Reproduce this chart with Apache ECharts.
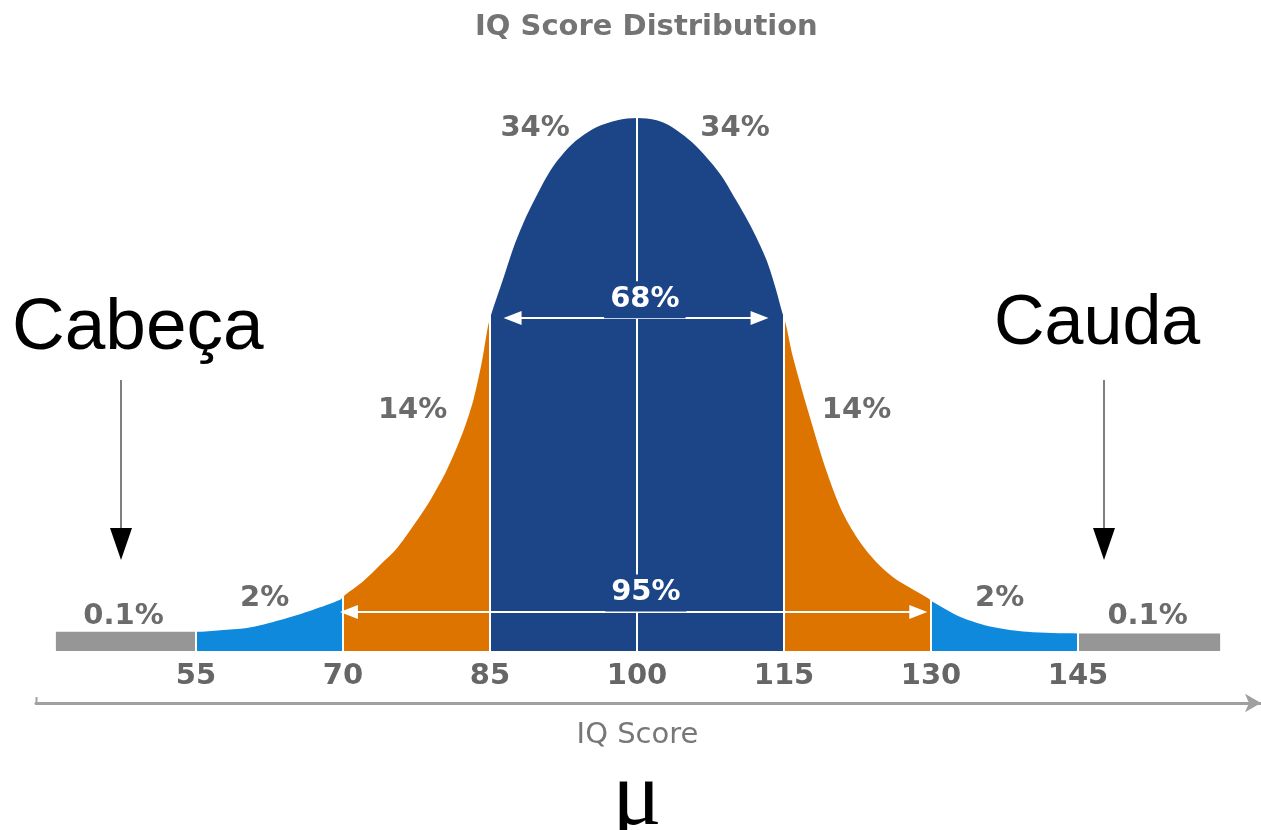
<!DOCTYPE html>
<html>
<head>
<meta charset="utf-8">
<title>IQ Score Distribution</title>
<script src="https://cdn.jsdelivr.net/npm/echarts@6/dist/echarts.min.js"></script>
<style>
  html, body { margin: 0; padding: 0; background: #fff; }
  #chart { width: 1261px; height: 830px; }
</style>
</head>
<body>
<div id="chart"></div>
<script>
// band edges, also used as the axis tick labels
const tickLabels = [55, 70, 85, 100, 115, 130, 145];
// share of people in each band, left to right
const shares = ['0.1%', '2%', '14%', '34%', '34%', '14%', '2%', '0.1%'];
// the two spans marked with arrows
const spans = ['68%', '95%'];
// outline of the curve (score, height 0-100)
const curveScores = [40.7, 55, 57.5, 60.2, 63.6, 66.9, 69.7,
  70.2, 72.0, 73.8, 75.5, 77.1, 78.9, 80.6, 82.2, 83.3, 84.2, 84.8,
  85.2, 86.3, 87.3, 88.4, 89.8, 91.4, 93.5, 95.9, 98.0, 100,
  102.0, 103.3, 105.7, 108.4, 110.1, 111.8, 113.2, 114.2, 114.8,
  115.2, 115.9, 117.7, 119.4, 121.0, 122.8, 124.5, 126.1, 127.9, 129.7,
  130.2, 133.0, 136.3, 139.8, 145, 159.5];
const curveHeights = [3.6, 3.6, 3.9, 4.3, 5.8, 7.7, 9.6,
  10.5, 13.0, 16.2, 19.3, 23.3, 28.3, 34.0, 40.9, 47.1, 54.6, 61.0,
  63.6, 69.6, 75.2, 80.3, 85.6, 90.8, 95.3, 98.3, 99.6, 100,
  99.6, 98.6, 95.3, 89.7, 84.6, 79.0, 73.4, 67.7, 63.6,
  61.2, 55.2, 43.5, 33.4, 25.9, 20.3, 16.5, 13.9, 11.8, 9.9,
  9.2, 6.4, 4.5, 3.6, 3.3, 3.3];

// styling / layout
const bandColors = ['#969696', '#0e89dc', '#dd7400', '#1b4587', '#1b4587', '#dd7400', '#0e89dc', '#969696'];
const shareAnchors = [[47.6, 6.4], [62.0, 9.8], [77.1, 45.2], [89.6, 98.1],
  [110.0, 98.1], [122.4, 45.2], [137.0, 9.8], [152.1, 6.4]];
const spanAnchors = [[100.8, 65.9], [100.9, 10.9]];
const spanArrows = [[[87.3, 62.5], [112.5, 62.5]], [[70.6, 7.3], [128.7, 7.3]]];

const pieces = bandColors.map((c, i) => {
  const p = { color: c };
  if (i > 0) p.gte = tickLabels[i - 1];
  if (i < tickLabels.length) p.lt = tickLabels[i];
  return p;
});

const labelFont = { fontFamily: 'DejaVu Sans', fontWeight: 'bold', fontSize: 29 };

const markData = tickLabels.map(v => ({ xAxis: v }));
spanArrows.forEach(a => {
  markData.push([
    { coord: a[0], symbol: 'triangle', symbolSize: [14, 18] },
    { coord: a[1], symbol: 'triangle', symbolSize: [14, 18] }
  ]);
});

const labelData = shares.map((s, i) => ({ name: s, value: shareAnchors[i] }));
spans.forEach((s, i) => {
  labelData.push({
    name: s,
    value: spanAnchors[i],
    label: { color: '#fff', backgroundColor: '#1b4587', padding: [4, 6] }
  });
});

const chart = echarts.init(document.getElementById('chart'));
chart.setOption({
  animation: false,
  backgroundColor: '#fff',
  title: {
    text: 'IQ Score Distribution',
    left: 470,
    top: 8,
    textStyle: { fontFamily: 'DejaVu Sans', fontWeight: 'bold', fontSize: 29, color: '#747474' }
  },
  grid: { left: 36, right: 0, top: 118, bottom: 179 },
  xAxis: [
    {
      type: 'value', min: 38.67, max: 163.67, position: 'bottom',
      axisLine: { show: false }, axisTick: { show: false }, splitLine: { show: false },
      axisLabel: Object.assign({ customValues: tickLabels, margin: 11, color: '#666' }, labelFont)
    },
    {
      type: 'value', min: 38.67, max: 163.67, position: 'bottom', offset: 52,
      axisLine: {
        show: true, symbol: ['none', 'arrow'], symbolSize: [14, 16], symbolOffset: [0, 0],
        lineStyle: { color: '#a0a0a0', width: 3 }
      },
      axisTick: { show: false }, axisLabel: { show: false }, splitLine: { show: false },
      name: 'IQ Score', nameLocation: 'middle', nameGap: 18,
      nameTextStyle: { fontFamily: 'DejaVu Sans', fontSize: 29, color: '#777', padding: [0, 22, 0, 0] }
    }
  ],
  yAxis: { type: 'value', min: 0, max: 100, show: false },
  visualMap: { show: false, type: 'piecewise', dimension: 0, seriesIndex: 0, pieces: pieces },
  series: [
    {
      type: 'line',
      data: curveScores.map((x, i) => [x, curveHeights[i]]),
      showSymbol: false,
      smooth: 0.3,
      silent: true,
      lineStyle: { width: 0 },
      areaStyle: { opacity: 1 },
      markLine: {
        silent: true,
        symbol: 'none',
        label: { show: false },
        lineStyle: { color: '#fff', width: 2, type: 'solid' },
        data: markData
      }
    },
    {
      type: 'scatter',
      symbolSize: 1,
      itemStyle: { color: 'transparent', opacity: 1 },
      silent: true,
      z: 5,
      data: labelData,
      label: Object.assign({ show: true, position: 'inside', formatter: '{b}', color: '#6b6b6b', opacity: 1 }, labelFont)
    }
  ],
  graphic: [
    { type: 'text', z: 100, x: 12, y: 329, style: { text: 'Cabeça', font: '73px "Liberation Sans"', fill: '#000', align: 'left', verticalAlign: 'middle' } },
    { type: 'text', z: 100, x: 994, y: 325, style: { text: 'Cauda', font: '70px "Liberation Sans"', fill: '#000', align: 'left', verticalAlign: 'middle' } },
    { type: 'line', z: 100, shape: { x1: 121, y1: 380, x2: 121, y2: 530 }, style: { stroke: '#555', lineWidth: 1.5 } },
    { type: 'polygon', z: 100, shape: { points: [[110, 528], [132, 528], [121, 560]] }, style: { fill: '#000' } },
    { type: 'line', z: 100, shape: { x1: 1104, y1: 380, x2: 1104, y2: 530 }, style: { stroke: '#555', lineWidth: 1.5 } },
    { type: 'polygon', z: 100, shape: { points: [[1093, 528], [1115, 528], [1104, 560]] }, style: { fill: '#000' } },
    { type: 'line', z: 100, shape: { x1: 36.5, y1: 697, x2: 36.5, y2: 703 }, style: { stroke: '#a0a0a0', lineWidth: 2 } },
    { type: 'text', z: 100, x: 637, y: 800, style: { text: 'μ', font: '92px "Liberation Serif"', fill: '#000', align: 'center', verticalAlign: 'middle' } }
  ]
});
</script>
</body>
</html>
